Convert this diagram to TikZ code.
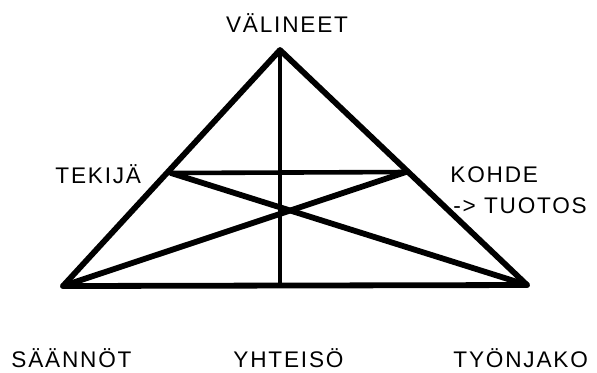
\documentclass[tikz,border=0pt]{standalone}
\usepackage{fontspec}
\setmainfont[LetterSpace=8]{Liberation Sans}
\begin{document}
\begin{tikzpicture}[x=0.5pt,y=-0.5pt,
  edge/.style={line width=2.9pt, line cap=round, line join=round},
  thinedge/.style={line width=2.3pt},
  lbl/.style={font=\fontsize{11.3}{13}\selectfont, inner sep=0pt}]
\useasboundingbox (0,0) rectangle (597,372);
% Corners of the triangle
\coordinate (top) at (280,50);
\coordinate (bl) at (63,286);
\coordinate (br) at (527,285);
\coordinate (lm) at (171,173);
\coordinate (rm) at (406,172);
\coordinate (base) at (280,286);
% Triangle and inner lines
\draw[edge] (bl) -- (top) -- (br) -- cycle;
\draw[thinedge] (top) -- (base);
\draw[thinedge] (lm) -- (rm);
\draw[edge] (bl) -- (rm);
\draw[edge] (lm) -- (br);
% Labels
\node[lbl, anchor=base] (valineet) at (287,32) {VÄLINEET};
\node[lbl, anchor=base west] (tekija) at (55,183) {TEKIJÄ};
\node[lbl, anchor=base west] (kohde) at (450,182) {KOHDE};
\node[lbl, anchor=base west] (tuotos) at (453,213) {-> TUOTOS};
\node[lbl, anchor=base west] (saannot) at (11,367) {SÄÄNNÖT};
\node[lbl, anchor=base west] (yhteiso) at (233,367) {YHTEISÖ};
\node[lbl, anchor=base west] (tyonjako) at (453,367) {TYÖNJAKO};
\end{tikzpicture}
\end{document}
